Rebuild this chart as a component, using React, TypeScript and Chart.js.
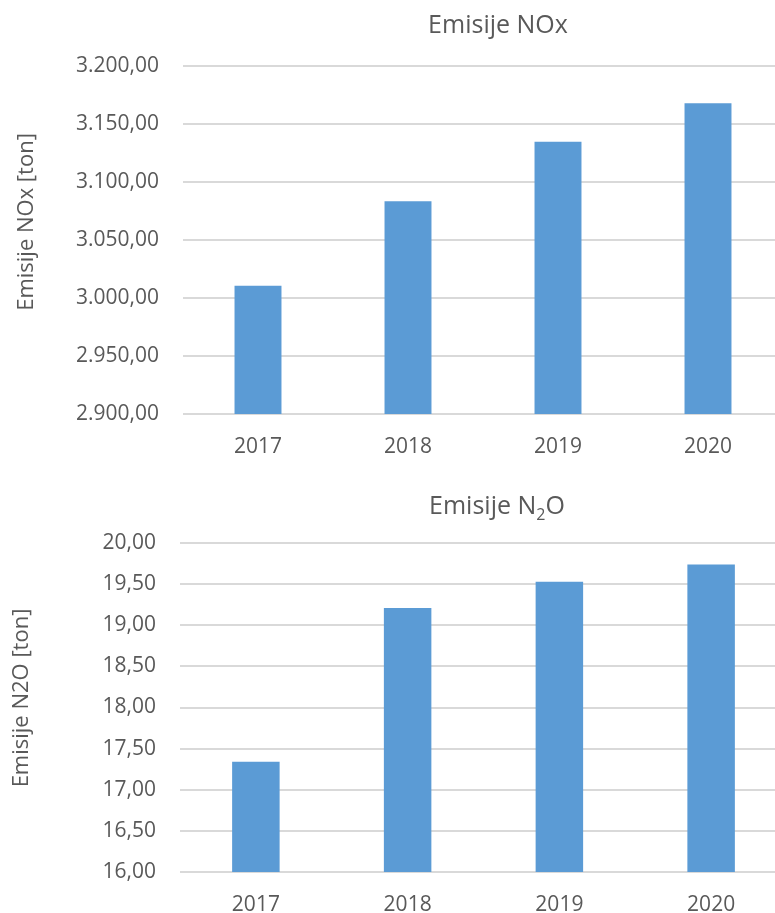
import React, { useEffect, useRef } from "react";
import { Chart, registerables } from "chart.js";

Chart.register(...registerables);

const years = ["2017", "2018", "2019", "2020"];
const noxValues = [3010.5, 3083.4, 3134.8, 3167.8];
const n2oValues = [17.34, 19.21, 19.53, 19.74];

const noxAxis = { min: 2900, max: 3200, step: 50 };
const n2oAxis = { min: 16, max: 20, step: 0.5 };

const FONT = "'Open Sans', sans-serif";
const TEXT = "#595959";
const BAR = "#5b9bd5";
const GRID = "#d9d9d9";

function fmt(v: number): string {
  const fixed = Math.abs(v).toFixed(2);
  const [intPart, dec] = fixed.split(".");
  const withDots = intPart.replace(/\B(?=(\d{3})+(?!\d))/g, ".");
  return (v < 0 ? "-" : "") + withDots + "," + dec;
}

type TitlePart = { text: string; sub?: boolean };

type Props = {
  values: number[];
  axis: { min: number; max: number; step: number };
  titleParts: TitlePart[];
  yTitle: string;
  width: number;
  height: number;
  padTop: number;
  padRight: number;
  yWidth: number;
  xHeight: number;
  xTickPad: number;
  titleX: number;
  titleBaseline: number;
  yTitleX: number;
  yTitleCenter: number;
};

function BarChart(p: Props) {
  const ref = useRef<HTMLCanvasElement | null>(null);
  useEffect(() => {
    if (!ref.current) return;
    const textPlugin = {
      id: "customText",
      afterDraw(chart: any) {
        const ctx = chart.ctx;
        ctx.save();
        ctx.fillStyle = TEXT;
        const big = `25px ${FONT}`;
        const small = `16px ${FONT}`;
        let total = 0;
        for (const part of p.titleParts) {
          ctx.font = part.sub ? small : big;
          total += ctx.measureText(part.text).width;
        }
        let x = p.titleX - total / 2;
        ctx.textBaseline = "alphabetic";
        ctx.textAlign = "left";
        for (const part of p.titleParts) {
          ctx.font = part.sub ? small : big;
          ctx.fillText(part.text, x, p.titleBaseline + (part.sub ? 6 : 0));
          x += ctx.measureText(part.text).width;
        }
        ctx.translate(p.yTitleX, p.yTitleCenter);
        ctx.rotate(-Math.PI / 2);
        ctx.font = `22px ${FONT}`;
        ctx.textAlign = "center";
        ctx.textBaseline = "middle";
        ctx.fillText(p.yTitle, 0, 0);
        ctx.restore();
      },
    };
    const chart = new Chart(ref.current, {
      type: "bar",
      data: {
        labels: years,
        datasets: [
          {
            data: p.values,
            backgroundColor: BAR,
            borderWidth: 0,
            categoryPercentage: 1,
            barPercentage: 0.313,
          },
        ],
      },
      options: {
        animation: false,
        responsive: true,
        maintainAspectRatio: false,
        layout: { padding: { top: p.padTop, right: p.padRight, left: 0, bottom: 0 } },
        plugins: {
          legend: { display: false },
          title: { display: false },
          tooltip: { enabled: false },
        },
        scales: {
          x: {
            grid: { display: false, drawTicks: false },
            border: { display: false },
            ticks: { color: TEXT, font: { family: FONT, size: 21 }, padding: p.xTickPad },
            afterFit: (s: any) => {
              s.height = p.xHeight;
            },
          },
          y: {
            min: p.axis.min,
            max: p.axis.max,
            grid: { color: GRID, lineWidth: 2, drawTicks: false },
            border: { display: false },
            ticks: {
              stepSize: p.axis.step,
              color: TEXT,
              font: { family: FONT, size: 21 },
              padding: 24,
              callback: (v: any) => fmt(Number(v)),
            },
            afterFit: (s: any) => {
              s.width = p.yWidth;
            },
          },
        },
      },
      plugins: [textPlugin],
    });
    return () => chart.destroy();
  }, []);
  return (
    <div style={{ position: "relative", width: p.width, height: p.height }}>
      <canvas ref={ref} />
    </div>
  );
}

export default function App() {
  return (
    <div
      style={{
        position: "fixed",
        left: 0,
        top: 0,
        width: 775,
        height: 913,
        overflow: "hidden",
        background: "#fff",
      }}
    >
      <BarChart
        values={noxValues}
        axis={noxAxis}
        titleParts={[{ text: "Emisije NOx" }]}
        yTitle="Emisije NOx [ton]"
        width={800}
        height={470}
        padTop={66}
        padRight={17}
        yWidth={183}
        xHeight={56}
        xTickPad={20}
        titleX={498}
        titleBaseline={33}
        yTitleX={27}
        yTitleCenter={222}
      />
      <BarChart
        values={n2oValues}
        axis={n2oAxis}
        titleParts={[{ text: "Emisije N" }, { text: "2", sub: true }, { text: "O" }]}
        yTitle="Emisije N2O [ton]"
        width={800}
        height={443}
        padTop={73}
        padRight={13}
        yWidth={180}
        xHeight={41}
        xTickPad={20}
        titleX={497}
        titleBaseline={44}
        yTitleX={22}
        yTitleCenter={228}
      />
    </div>
  );
}
